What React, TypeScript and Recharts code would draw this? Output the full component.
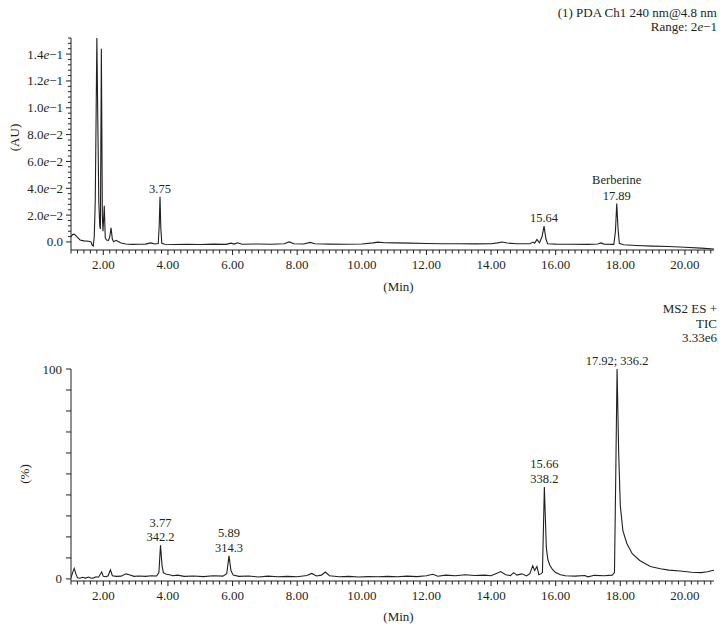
import React from 'react'
import { LineChart, Line, XAxis, YAxis, ReferenceDot } from 'recharts'

const FONT = '"Liberation Serif", "Times New Roman", serif'
const INK = '#231f20'

// (1) PDA Ch1 240 nm trace (min, AU)
const pdaTime = [
  1.0, 1.05, 1.1, 1.18, 1.28, 1.4, 1.55, 1.62, 1.66, 1.69, 1.72, 1.75, 1.78, 1.8, 1.83, 1.86, 1.89, 1.91,
  1.94, 1.97, 1.99, 2.03, 2.06, 2.1, 2.16, 2.2, 2.24, 2.28, 2.32, 2.4, 2.46, 2.55, 2.7, 2.9, 3.1, 3.3,
  3.47, 3.6, 3.7, 3.73, 3.755, 3.78, 3.81, 3.9, 4.2, 4.6, 5.0, 5.4, 5.8, 5.95, 6.05, 6.15, 6.3, 6.8,
  7.2, 7.6, 7.75, 7.9, 8.2, 8.4, 8.55, 9.0, 9.5, 10.0, 10.35, 10.5, 10.7, 11.0, 11.5, 12.0, 12.5, 13.0,
  13.5, 14.0, 14.2, 14.35, 14.5, 14.8, 15.2, 15.3, 15.35, 15.42, 15.5, 15.58, 15.64, 15.7, 15.75, 16.0,
  16.5, 17.0, 17.3, 17.4, 17.5, 17.8, 17.85, 17.89, 17.93, 17.97, 18.1, 18.5, 19.0, 19.5, 20.0, 20.5,
  20.9,
]
const pdaAu = [
  0.004, 0.0055, 0.0058, 0.004, 0.0015, 0.0008, 0.0005, 0.0, -0.0025, -0.003, 0.004, 0.03, 0.1, 0.152,
  0.09, 0.03, 0.012, 0.0097, 0.144, 0.02, 0.008, 0.027, 0.003, 0.0015, 0.0012, 0.004, 0.0105, 0.002,
  0.0002, 0.0012, 0.0004, -0.0008, -0.0015, -0.0018, -0.0017, -0.0016, -0.0007, -0.0015, -0.0012, 0.012,
  0.0337, 0.01, -0.001, -0.0017, -0.0019, -0.0017, -0.0019, -0.0016, -0.0018, -0.0009, -0.0016, -0.0006,
  -0.0017, -0.0015, -0.0017, -0.0013, 0.0, -0.0013, -0.0015, -0.0003, -0.0013, -0.0016, -0.0017,
  -0.0015, -0.0007, -0.0001, -0.0006, -0.0007, -0.0009, -0.0011, -0.0013, -0.0013, -0.0014, -0.0013,
  -0.0007, 0.0, -0.0008, -0.0013, -0.0013, -0.0001, -0.0009, 0.0018, -0.0006, 0.004, 0.0118, 0.002,
  -0.0013, -0.0016, -0.0017, -0.0018, -0.0015, -0.0007, -0.0016, -0.0018, 0.008, 0.0286, 0.01, -0.001,
  -0.0021, -0.0026, -0.0031, -0.0034, -0.0039, -0.0046, -0.0053,
]

// MS2 ES+ TIC trace (min, %)
const msTime = [
  1.0, 1.05, 1.1, 1.15, 1.2, 1.28, 1.35, 1.45, 1.55, 1.62, 1.7, 1.78, 1.85, 1.95, 2.0, 2.08, 2.15, 2.22,
  2.28, 2.4, 2.55, 2.7, 2.8, 2.95, 3.1, 3.3, 3.5, 3.65, 3.72, 3.77, 3.82, 3.86, 3.95, 4.05, 4.15, 4.3,
  4.5, 4.8, 5.1, 5.4, 5.7, 5.82, 5.89, 5.95, 6.02, 6.2, 6.5, 6.8, 7.1, 7.4, 7.7, 8.0, 8.3, 8.45, 8.6,
  8.75, 8.87, 9.0, 9.3, 9.6, 9.9, 10.2, 10.5, 10.8, 11.1, 11.4, 11.7, 12.0, 12.2, 12.35, 12.6, 12.9,
  13.2, 13.5, 13.8, 14.0, 14.2, 14.3, 14.45, 14.6, 14.7, 14.8, 14.95, 15.1, 15.2, 15.29, 15.35, 15.42,
  15.48, 15.55, 15.59, 15.65, 15.71, 15.76, 15.82, 15.9, 16.0, 16.15, 16.3, 16.6, 16.9, 17.0, 17.2,
  17.5, 17.75, 17.82, 17.86, 17.9, 17.95, 18.0, 18.08, 18.2, 18.37, 18.6, 18.93, 19.24, 19.5, 19.86,
  20.2, 20.5, 20.7, 20.85, 20.9,
]
const msPct = [
  0.5, 3, 5, 2.5, 0.5, 0.3, 0.8, 0.4, 0.9, 0.3, 0.5, 1.0, 0.8, 3.3, 1.2, 1.0, 1.5, 4.3, 1.5, 1.2, 1.3,
  2.4, 2.0, 1.2, 1.4, 1.2, 1.5, 1.4, 3, 16, 6, 3, 2.2, 2.0, 1.5, 1.8, 1.2, 1.4, 1.1, 1.5, 1.3, 2.5, 11,
  4, 1.8, 1.2, 1.4, 0.9, 1.3, 1.0, 1.2, 1.0, 1.6, 2.6, 1.4, 1.8, 3.3, 1.5, 1.0, 1.2, 0.9, 1.1, 1.0,
  1.2, 1.0, 1.3, 1.1, 1.5, 2.2, 1.3, 1.8, 1.5, 2.0, 1.6, 1.8, 1.5, 2.8, 3.5, 2.0, 1.6, 3.0, 1.8, 2.4,
  1.4, 2.5, 6.3, 4.0, 5.9, 2.0, 2.5, 3, 43.8, 15, 9, 6.5, 4.5, 3.0, 2.0, 1.5, 1.3, 1.6, 1.0, 1.7, 1.5,
  1.8, 3, 50, 100, 60, 35, 23, 17, 12, 8.8, 5.9, 4.8, 4.2, 3.8, 3.2, 3.0, 3.4, 4.0, 4.1,
]

const timeLabels = [2, 4, 6, 8, 10, 12, 14, 16, 18, 20]
const auLabels = [0, 0.02, 0.04, 0.06, 0.08, 0.1, 0.12, 0.14]
const pctLabels = [0, 100]

const pdaPeakTime = [3.755, 15.64, 17.89]
const pdaPeakAu = [0.0337, 0.0118, 0.0286]
const pdaPeakText = [['3.75'], ['15.64'], ['Berberine', '17.89']]

const msPeakTime = [3.77, 5.89, 15.65, 17.9]
const msPeakPct = [16, 11, 43.8, 100]
const msPeakText = [['3.77', '342.2'], ['5.89', '314.3'], ['15.66', '338.2'], ['17.92; 336.2']]

const pdaRows = pdaTime.map((t, i) => ({ t, v: pdaAu[i] }))
const msRows = msTime.map((t, i) => ({ t, v: msPct[i] }))

// minor ticks every 0.2 min, every 0.004 AU, every 10 %
const timeTicks = Array.from({ length: 100 }, (_, k) => Math.round((1 + k * 0.2) * 10) / 10)
const auTicks = Array.from({ length: 39 }, (_, k) => Math.round(k * 4) / 1000)
const pctTicks = Array.from({ length: 11 }, (_, k) => k * 10)

const near = (list: number[], v: number) => list.some((l) => Math.abs(l - v) < 1e-6)

const txt = { fontFamily: FONT, fontSize: 13, fill: INK }
const peakTxt = { fontFamily: FONT, fontSize: 12.5, fill: INK }

function TimeTick({ x, y, payload }: any) {
  const v = payload.value
  const major = near(timeLabels, v)
  return (
    <g>
      <line x1={x} x2={x} y1={y} y2={y + (major ? 5 : 3.5)} stroke={INK} strokeWidth={1} />
      {major && (
        <text x={x} y={y + 19} textAnchor="middle" style={txt}>
          {v.toFixed(2)}
        </text>
      )}
    </g>
  )
}

function AuTick({ x, y, payload }: any) {
  const v = payload.value
  const major = near(auLabels, v)
  let label: React.ReactNode = null
  if (major) {
    if (v === 0) label = '0.0'
    else {
      const exp = Math.floor(Math.log10(v) + 1e-9)
      const mant = (v / Math.pow(10, exp)).toFixed(1)
      label = (
        <>
          {mant}
          <tspan fontStyle="italic">e</tspan>
          {'\u2212' + Math.abs(exp)}
        </>
      )
    }
  }
  return (
    <g>
      <line x1={x} x2={x - (major ? 5 : 3)} y1={y} y2={y} stroke={INK} strokeWidth={1} />
      {major && (
        <text x={x - 8} y={y + 4.5} textAnchor="end" style={txt}>
          {label}
        </text>
      )}
    </g>
  )
}

function PctTick({ x, y, payload }: any) {
  const v = payload.value
  const major = near(pctLabels, v)
  return (
    <g>
      <line x1={x} x2={x - 5} y1={y} y2={y} stroke={INK} strokeWidth={1} />
      {major && (
        <text x={x - 9} y={y + 4.5} textAnchor="end" style={txt}>
          {v}
        </text>
      )}
    </g>
  )
}

const peakLabel = (lines: string[], gap: number, lead: number) => (props: any) => {
  const vb = props.viewBox || {}
  const cx = vb.x + (vb.width || 0) / 2
  const cy = vb.y + (vb.height || 0) / 2
  return (
    <g>
      {lines.map((s, i) => (
        <text key={i} x={cx} y={cy - gap - (lines.length - 1 - i) * lead} textAnchor="middle" style={peakTxt}>
          {s}
        </text>
      ))}
    </g>
  )
}

export default function App() {
  return (
    <div style={{ position: 'absolute', left: 0, top: 0, width: 726, height: 632, background: '#fff' }}>
      <div style={{ position: 'absolute', left: 0, top: 0 }}>
        <LineChart width={726} height={300} data={pdaRows} margin={{ top: 38, right: 12, left: 0, bottom: 20 }}>
          <XAxis
            type="number"
            dataKey="t"
            domain={[1, 20.9]}
            ticks={timeTicks}
            interval={0}
            tickSize={0}
            tickMargin={0}
            tick={(p: any) => <TimeTick {...p} />}
            axisLine={{ stroke: INK }}
            allowDataOverflow
            height={30}
          />
          <YAxis
            type="number"
            domain={[-0.006, 0.152]}
            ticks={auTicks}
            interval={0}
            tickSize={0}
            tickMargin={0}
            tick={(p: any) => <AuTick {...p} />}
            axisLine={{ stroke: INK }}
            allowDataOverflow
            width={71}
          />
          <Line type="linear" dataKey="v" stroke={INK} strokeWidth={1.1} dot={false} isAnimationActive={false} />
          {pdaPeakTime.map((t, i) => (
            <ReferenceDot
              key={i}
              x={t}
              y={pdaPeakAu[i]}
              r={0}
              fill="none"
              stroke="none"
              ifOverflow="visible"
              label={{ content: peakLabel(pdaPeakText[i], 4, 15.5) }}
            />
          ))}
        </LineChart>
      </div>
      <div style={{ position: 'absolute', left: 0, top: 300 }}>
        <LineChart width={726} height={332} data={msRows} margin={{ top: 69, right: 12, left: 0, bottom: 20 }}>
          <XAxis
            type="number"
            dataKey="t"
            domain={[1, 20.9]}
            ticks={timeTicks}
            interval={0}
            tickSize={0}
            tickMargin={0}
            tick={(p: any) => <TimeTick {...p} />}
            axisLine={{ stroke: INK }}
            allowDataOverflow
            height={31}
          />
          <YAxis
            type="number"
            domain={[-1, 100]}
            ticks={pctTicks}
            interval={0}
            tickSize={0}
            tickMargin={0}
            tick={(p: any) => <PctTick {...p} />}
            axisLine={{ stroke: INK }}
            allowDataOverflow
            width={71}
          />
          <Line type="linear" dataKey="v" stroke={INK} strokeWidth={1.1} dot={false} isAnimationActive={false} />
          {msPeakTime.map((t, i) => (
            <ReferenceDot
              key={i}
              x={t}
              y={msPeakPct[i]}
              r={0}
              fill="none"
              stroke="none"
              ifOverflow="visible"
              label={{ content: peakLabel(msPeakText[i], 4, 14.5) }}
            />
          ))}
        </LineChart>
      </div>
      <svg
        width={726}
        height={632}
        style={{ position: 'absolute', left: 0, top: 0, pointerEvents: 'none' }}
      >
        <text x={717} y={17} textAnchor="end" style={txt}>
          (1) PDA Ch1 240 nm@4.8 nm
        </text>
        <text x={717} y={30.5} textAnchor="end" style={txt}>
          Range: 2<tspan fontStyle="italic">e</tspan>
          {'\u22121'}
        </text>
        <text transform="translate(18.5,137.5) rotate(-90)" textAnchor="middle" style={txt}>
          (AU)
        </text>
        <text x={398.5} y={290.5} textAnchor="middle" style={txt}>
          (Min)
        </text>
        <text x={717} y={313} textAnchor="end" style={txt}>
          MS2 ES +
        </text>
        <text x={717} y={327.5} textAnchor="end" style={txt}>
          TIC
        </text>
        <text x={717} y={342} textAnchor="end" style={txt}>
          3.33e6
        </text>
        <text transform="translate(29,474) rotate(-90)" textAnchor="middle" style={txt}>
          (%)
        </text>
        <text x={398.5} y={620.5} textAnchor="middle" style={txt}>
          (Min)
        </text>
      </svg>
    </div>
  )
}
